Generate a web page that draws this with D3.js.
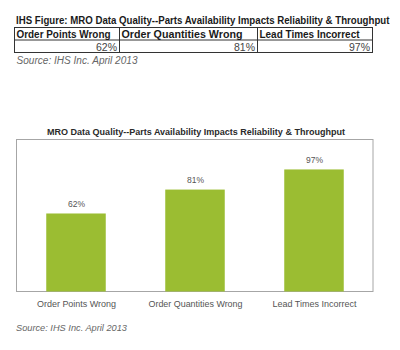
<!DOCTYPE html>
<html>
<head>
<meta charset="utf-8">
<script src="https://cdn.jsdelivr.net/npm/d3@7"></script>
<style>
  html, body { margin: 0; padding: 0; background: #fff; }
  svg { display: block; font-family: "Liberation Sans", Arial, sans-serif; }
</style>
</head>
<body>
<svg id="fig" width="400" height="350"></svg>
<script>
// Survey results: share of respondents reporting each MRO data problem
const categories = ["Order Points Wrong", "Order Quantities Wrong", "Lead Times Incorrect"];
const values = [62, 81, 97];
const yDomain = [0, 120];
const figureTitle = "IHS Figure: MRO Data Quality--Parts Availability Impacts Reliability & Throughput";
const chartTitle = "MRO Data Quality--Parts Availability Impacts Reliability & Throughput";
const sourceNote = "Source: IHS Inc. April 2013";

const svg = d3.select("#fig");
const pct = d => d + "%";

// ---- Summary table above the chart ----
// The figure title is set in a narrow face: draw it, then squeeze it horizontally to its width.
const titleG = svg.append("g");
const titleText = titleG.append("text")
  .attr("x", 0).attr("y", 0)
  .attr("font-size", 11).attr("font-weight", "bold").attr("fill", "#1a1a1a")
  .text(figureTitle);
const titleNatural = titleText.node().getComputedTextLength();
titleG.attr("transform", `translate(16,24) scale(${374 / titleNatural},1)`);

const colEdges = [14, 119, 257, 372];
const rowEdges = [27.5, 40, 52.5];
const headWidths = [94, 121, 100];

const table = svg.append("g").attr("stroke", "#333").attr("stroke-width", 1).attr("fill", "none");
table.append("rect")
  .attr("x", colEdges[0] + 0.5).attr("y", rowEdges[0])
  .attr("width", colEdges[3] - colEdges[0]).attr("height", rowEdges[2] - rowEdges[0]);
table.append("line")
  .attr("x1", colEdges[0]).attr("x2", colEdges[3]).attr("y1", rowEdges[1]).attr("y2", rowEdges[1]);
table.selectAll("line.col").data(colEdges.slice(1, 3)).join("line").attr("class", "col")
  .attr("x1", d => d + 0.5).attr("x2", d => d + 0.5)
  .attr("y1", rowEdges[0]).attr("y2", rowEdges[2]);

svg.selectAll("text.thead").data(categories).join("text").attr("class", "thead")
  .attr("x", (d, i) => colEdges[i] + 2.5).attr("y", 38)
  .attr("font-size", 11).attr("font-weight", "bold").attr("fill", "#1a1a1a")
  .attr("textLength", (d, i) => headWidths[i]).attr("lengthAdjust", "spacingAndGlyphs")
  .text(d => d);

svg.selectAll("text.tval").data(values).join("text").attr("class", "tval")
  .attr("x", (d, i) => colEdges[i + 1] - 2).attr("y", 50.5)
  .attr("text-anchor", "end")
  .attr("font-size", 10.5).attr("fill", "#444")
  .text(pct);

svg.append("text")
  .attr("x", 16.5).attr("y", 63.5)
  .attr("font-size", 10).attr("font-style", "italic").attr("fill", "#666")
  .attr("textLength", 121).attr("lengthAdjust", "spacingAndGlyphs")
  .text(sourceNote);

// ---- Bar chart ----
const plot = { left: 16, right: 373, top: 139.5, bottom: 291.5 };

const x = d3.scaleBand()
  .domain(categories)
  .range([plot.left, plot.right])
  .paddingInner(0.5)
  .paddingOuter(0.25);

const y = d3.scaleLinear()
  .domain(yDomain)
  .range([plot.bottom, plot.top + 1]);

svg.append("text")
  .attr("x", 196).attr("y", 135)
  .attr("text-anchor", "middle")
  .attr("font-size", 9.5).attr("font-weight", "bold").attr("fill", "#2a2a2a")
  .attr("textLength", 298).attr("lengthAdjust", "spacingAndGlyphs")
  .text(chartTitle);

svg.append("rect")
  .attr("x", plot.left + 0.5).attr("y", plot.top)
  .attr("width", plot.right - plot.left - 0.5).attr("height", plot.bottom - plot.top)
  .attr("fill", "none").attr("stroke", "#a6a6a6").attr("stroke-width", 1);

const rows = categories.map((c, i) => ({ category: c, value: values[i] }));

svg.selectAll("rect.bar").data(rows).join("rect").attr("class", "bar")
  .attr("x", d => x(d.category) + 0.5)
  .attr("y", d => y(d.value))
  .attr("width", x.bandwidth())
  .attr("height", d => y(0) - y(d.value))
  .attr("fill", "#9bbd32");

svg.selectAll("text.vlabel").data(rows).join("text").attr("class", "vlabel")
  .attr("x", d => x(d.category) + x.bandwidth() / 2 + 1)
  .attr("y", d => y(d.value) - 6.5)
  .attr("text-anchor", "middle")
  .attr("font-size", 8.5).attr("fill", "#555")
  .text(d => pct(d.value));

// Category axis along the bottom of the frame
const xAxis = svg.append("g")
  .attr("transform", `translate(1,${plot.bottom})`)
  .call(d3.axisBottom(x).tickSize(0).tickPadding(15.5));
xAxis.select(".domain").remove();
const labelWidths = { "Order Points Wrong": 79, "Order Quantities Wrong": 94, "Lead Times Incorrect": 84 };
xAxis.selectAll(".tick text")
  .attr("font-family", "Liberation Sans, Arial, sans-serif")
  .attr("font-size", 9.5).attr("fill", "#555")
  .attr("dy", 0)
  .attr("textLength", d => labelWidths[d]).attr("lengthAdjust", "spacingAndGlyphs");

svg.append("text")
  .attr("x", 16).attr("y", 331)
  .attr("font-size", 9).attr("font-style", "italic").attr("fill", "#666")
  .attr("textLength", 111).attr("lengthAdjust", "spacingAndGlyphs")
  .text(sourceNote);
</script>
</body>
</html>
